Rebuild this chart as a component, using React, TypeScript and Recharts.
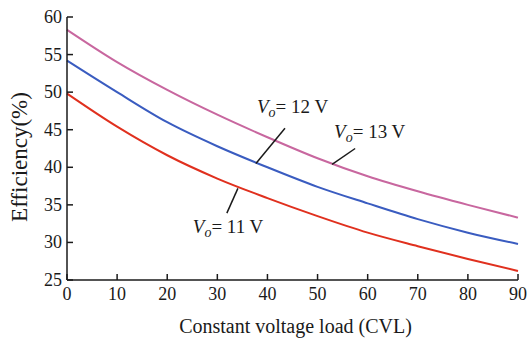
import React from "react";
import { LineChart, Line, XAxis, YAxis, ReferenceLine, ReferenceDot } from "recharts";

const loads = [0, 10, 20, 30, 40, 50, 60, 70, 80, 90];
const eff11 = [49.8, 45.4, 41.6, 38.5, 35.9, 33.5, 31.3, 29.5, 27.8, 26.2];
const eff12 = [54.2, 50.0, 46.0, 42.8, 40.0, 37.4, 35.2, 33.1, 31.3, 29.8];
const eff13 = [58.3, 54.0, 50.3, 47.0, 44.0, 41.2, 38.8, 36.8, 35.0, 33.3];
const xTicks = [0, 10, 20, 30, 40, 50, 60, 70, 80, 90];
const yTicks = [25, 30, 35, 40, 45, 50, 55, 60];

const labelNames = ["12", "13", "11"];
const labelPos = [
  { x: 37.9, y: 47.2 },
  { x: 53.3, y: 43.9 },
  { x: 25.1, y: 31.2 },
];
const leaders = [
  [{ x: 43.5, y: 45.2 }, { x: 37.7, y: 40.5 }],
  [{ x: 57.5, y: 42.5 }, { x: 52.9, y: 40.4 }],
  [{ x: 34.1, y: 37.2 }, { x: 31.9, y: 33.9 }],
];

const data = loads.map((x, i) => ({ x, v11: eff11[i], v12: eff12[i], v13: eff13[i] }));

const FONT = "'Liberation Serif', 'Times New Roman', serif";
const INK = "#1a1a1a";

const YTick = (props: any) => {
  const { x, y, payload } = props;
  const ax = x + 5;
  return (
    <g>
      <line x1={ax} y1={y} x2={ax + 6} y2={y} stroke={INK} strokeWidth={1.5} />
      <text x={x} y={y + 6} textAnchor="end" fontFamily={FONT} fontSize={18} fill={INK}>
        {payload.value}
      </text>
    </g>
  );
};

const XTick = (props: any) => {
  const { x, y, payload } = props;
  const ay = y - 8;
  return (
    <g>
      <line x1={x} y1={ay} x2={x} y2={ay - 6} stroke={INK} strokeWidth={1.5} />
      <text x={x} y={ay + 20} textAnchor="middle" fontFamily={FONT} fontSize={18} fill={INK}>
        {payload.value}
      </text>
    </g>
  );
};

const YTitle = () => (
  <text
    x={19}
    y={157}
    transform="rotate(-90, 19, 157)"
    textAnchor="middle"
    dominantBaseline="central"
    fontFamily={FONT}
    fontSize={23}
    fill={INK}
  >
    Efficiency(%)
  </text>
);

const makeLabel = (name: string) => (p: any) => (
  <text x={p.cx} y={p.cy} fontFamily={FONT} fontSize={19} fill={INK}>
    <tspan fontStyle="italic">V</tspan>
    <tspan fontStyle="italic" fontSize={14} dy={4}>o</tspan>
    <tspan dy={-4}>{`= ${name} V`}</tspan>
  </text>
);

export default function App() {
  return (
    <div style={{ position: "absolute", left: 0, top: 0, background: "#fff" }}>
      <LineChart width={531} height={340} data={data} margin={{ top: 17, right: 13, left: 0, bottom: 0 }}>
        <XAxis
          type="number"
          dataKey="x"
          domain={[0, 90]}
          ticks={xTicks}
          tickSize={0}
          tickMargin={8}
          tick={<XTick />}
          axisLine={{ stroke: INK, strokeWidth: 1.5 }}
          height={60}
          interval={0}
          label={{ value: "Constant voltage load (CVL)", position: "insideBottom", offset: 7, dx: 3, fontFamily: FONT, fontSize: 20, fill: INK }}
        />
        <YAxis
          type="number"
          domain={[25, 60]}
          ticks={yTicks}
          tickSize={0}
          tickMargin={5}
          tick={<YTick />}
          axisLine={{ stroke: INK, strokeWidth: 1.5 }}
          width={67}
          interval={0}
          label={<YTitle />}
        />
        <Line type="monotone" dataKey="v13" stroke="#c8679f" strokeWidth={2} dot={false} isAnimationActive={false} />
        <Line type="monotone" dataKey="v12" stroke="#3a5cc0" strokeWidth={2} dot={false} isAnimationActive={false} />
        <Line type="monotone" dataKey="v11" stroke="#e0301e" strokeWidth={2} dot={false} isAnimationActive={false} />
        {leaders.map((seg, i) => (
          <ReferenceLine key={"l" + i} segment={seg} stroke={INK} strokeWidth={1.5} ifOverflow="visible" />
        ))}
        {labelPos.map((p, i) => (
          <ReferenceDot key={"t" + i} x={p.x} y={p.y} r={0} ifOverflow="visible" shape={makeLabel(labelNames[i])} />
        ))}
      </LineChart>
    </div>
  );
}
